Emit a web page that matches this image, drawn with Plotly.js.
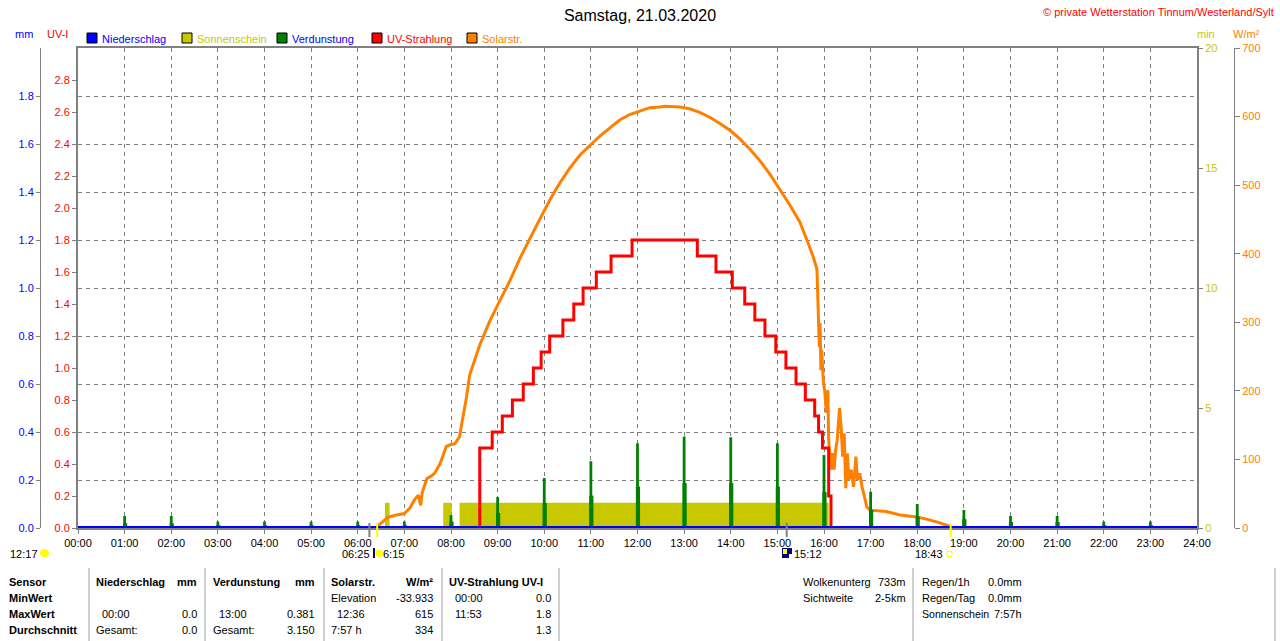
<!DOCTYPE html>
<html>
<head>
<meta charset="utf-8">
<script src="https://cdn.plot.ly/plotly-3.0.1.min.js"></script>
<style>html,body{margin:0;padding:0;background:#fff;}#chart{width:1280px;height:641px;}</style>
</head>
<body>
<div id="chart"></div>
<script>
// ---------------- data ----------------
const hourTicks = [0,1,2,3,4,5,6,7,8,9,10,11,12,13,14,15,16,17,18,19,20,21,22,23,24];
const hourLabels = ["00:00","01:00","02:00","03:00","04:00","05:00","06:00","07:00","08:00","09:00","10:00","11:00","12:00","13:00","14:00","15:00","16:00","17:00","18:00","19:00","20:00","21:00","22:00","23:00","24:00"];
const mmTicks = [0.0,0.2,0.4,0.6,0.8,1.0,1.2,1.4,1.6,1.8];
const uvTicks = [0.0,0.2,0.4,0.6,0.8,1.0,1.2,1.4,1.6,1.8,2.0,2.2,2.4,2.6,2.8];
const minTicks = [0,5,10,15,20];
const wTicks = [0,100,200,300,400,500,600,700];

// Sonnenschein (min): sunny intervals
const sunStart = ["06:35","07:50","08:11"];
const sunEnd = ["06:41","08:01","16:06"];
const sunMinutes = [1.05,1.05,1.05];

// Verdunstung (mm), hourly spikes: peak part and wider base part
const evapHours = ["01:00","02:00","03:00","04:00","05:00","06:00","07:00","08:00","09:00","10:00","11:00","12:00","13:00","14:00","15:00","16:00","17:00","18:00","19:00","20:00","21:00","22:00","23:00"];
const evapPeak = [0.05,0.05,0.027,0.027,0.027,0.027,0.027,0.054,0.129,0.208,0.278,0.353,0.381,0.378,0.353,0.304,0.151,0.1,0.075,0.05,0.05,0.027,0.027];
const evapBase = [0.02,0.02,0.012,0.012,0.012,0.012,0.012,0.027,0.0625,0.104,0.135,0.173,0.187,0.187,0.173,0.15,0.075,0.048,0.037,0.025,0.025,0.012,0.012];

// UV-Strahlung (UV-I)
const uvTimes = ["00:00","08:37","08:53","09:06","09:19","09:33","09:46","09:56","10:07","10:24","10:38","10:50","11:07","11:26","11:53","13:17","13:41","14:02","14:18","14:31","14:44","14:58","15:11","15:24","15:36","15:48","15:53","15:58","16:06","16:09","24:00"];
const uvIndex = [0,0.5,0.6,0.7,0.8,0.9,1.0,1.1,1.2,1.3,1.4,1.5,1.6,1.7,1.8,1.7,1.6,1.5,1.4,1.3,1.2,1.1,1.0,0.9,0.8,0.7,0.6,0.5,0.2,0,0];

// Solarstrahlung (W/m²)
const solarTimes = ["00:00","06:24","06:26","06:33","06:39","06:50","07:00","07:07","07:13","07:18","07:21","07:23","07:29","07:35","07:39","07:46","07:54","07:58","08:05","08:11","08:14","08:20","08:24","08:37","08:50","09:03","09:16","09:29","09:42","09:55","10:07","10:20","10:33","10:46","10:59","11:12","11:25","11:37","11:50","12:03","12:16","12:29","12:35","12:55","13:08","13:20","13:33","13:46","13:59","14:12","14:25","14:38","14:51","15:03","15:16","15:29","15:38","15:42","15:46","15:50","15:51","15:53","15:54","15:55","15:56","15:57","15:59","16:01","16:03","16:05","16:06","16:09","16:11","16:13","16:15","16:17","16:20","16:22","16:24","16:26","16:28","16:30","16:32","16:35","16:38","16:41","16:43","16:46","16:49","16:52","16:55","16:59","17:20","17:38","17:59","18:12","18:25","18:38","18:42","18:45","24:00"];
const solarWm2 = [0,0,3,10,16,19,21,29,41,48,33,52,72,76,80,94,119,121,123,133,153,191,223,267,302,332,361,394,423,452,478,503,525,544,558,572,584,595,603,608,613,614,615,614,611,606,599,590,580,567,552,535,515,494,471,446,420,408,396,381,376,299,264,299,230,260,216,199,168,201,128,85,109,85,114,128,175,148,104,138,58,109,70,85,60,104,70,80,60,46,31,26,24,19,16,13,9,4,2,0,0];

// Niederschlag (mm)
const precipTimes = ["00:00","24:00"];
const precipMm = [0,0];

// Ereignisse unter der Achse
const sunriseTime = "06:25";
const sunsetTime = "18:43";
const moonriseTime = "06:15";
const moonsetTime = "15:12";
const dayLengthText = "12:17";

// Tabelle
const rowLabels = ["Sensor","MinWert","MaxWert","Durchschnitt"];
const niederCells = [["Niederschlag","mm"],["",""],["00:00","0.0"],["Gesamt:","0.0"]];
const verdCells = [["Verdunstung","mm"],["",""],["13:00","0.381"],["Gesamt:","3.150"]];
const solarCells = [["Solarstr.","W/m²"],["Elevation","-33.933"],["12:36","615"],["7:57 h","334"]];
const uvCells = [["UV-Strahlung UV-I",""],["00:00","0.0"],["11:53","1.8"],["","1.3"]];
const wolkenCells = [["Wolkenunterg","733m"],["Sichtweite","2-5km"]];
const regenCells = [["Regen/1h","0.0mm"],["Regen/Tag","0.0mm"],["Sonnenschein","7:57h"]];

const legendNames = ["Niederschlag","Sonnenschein","Verdunstung","UV-Strahlung","Solarstr."];

// ---------------- helpers ----------------
const toH = s => { const p = s.split(':').map(Number); return p[0] + p[1]/60; };
const L = 40, R = 1234, T = 48, B = 528;
const px = x => (x - L) / (R - L);
const py = y => (B - y) / (B - T);

const C_BLUE = '#0000FF', C_OLIVE = '#C8C800', C_GREEN = '#008000', C_RED = '#FF0000', C_ORANGE = '#FF8000', C_GRAY = '#808080';
const FONT = '"Liberation Sans", Arial, sans-serif';

// ---------------- traces ----------------
const sunX = sunStart.map(toH);
const sunW = sunEnd.map((e, i) => toH(e) - sunX[i]);
const traces = [
  { x: sunX, y: sunMinutes, width: sunW, offset: 0, yaxis: 'y', type: 'bar',
    marker: { color: C_OLIVE, line: { width: 0 } }, hoverinfo: 'skip' },
  { x: solarTimes.map(toH), y: solarWm2, yaxis: 'y2', type: 'scatter', mode: 'lines',
    line: { width: 3, color: C_ORANGE, simplify: false }, hoverinfo: 'skip' },
  { x: uvTimes.map(toH), y: uvIndex, yaxis: 'y3', type: 'scatter', mode: 'lines',
    line: { width: 3, color: C_RED, shape: 'hv', simplify: false }, hoverinfo: 'skip' },
  { x: evapHours.map(toH), y: evapBase, yaxis: 'y4', type: 'bar', width: 0.09, offset: -0.035,
    marker: { color: C_GREEN, line: { width: 0 } }, hoverinfo: 'skip' },
  { x: evapHours.map(toH), y: evapPeak, yaxis: 'y4', type: 'bar', width: 0.06, offset: -0.03,
    marker: { color: C_GREEN, line: { width: 0 } }, hoverinfo: 'skip' },
  { x: precipTimes.map(toH), y: precipMm, yaxis: 'y4', type: 'scatter', mode: 'lines',
    line: { width: 4, color: C_BLUE }, hoverinfo: 'skip' }
];

// ---------------- annotations & shapes ----------------
const annotations = [];
const shapes = [];
function txt(text, x, y, color, anchor, size) {
  annotations.push({ text: text, xref: 'paper', yref: 'paper', x: px(x), y: py(y),
    xanchor: anchor || 'left', yanchor: 'middle', showarrow: false, borderpad: 0,
    font: { family: FONT, size: size || 11, color: color || '#000' } });
}
function rect(x0, y0, x1, y1, fill, lineColor) {
  shapes.push({ type: 'rect', xref: 'paper', yref: 'paper', x0: px(x0), x1: px(x1), y0: py(y1), y1: py(y0),
    fillcolor: fill, line: { color: lineColor || fill, width: lineColor ? 1 : 0 } });
}
function vline(x, y0, y1, color, w) {
  shapes.push({ type: 'line', xref: 'paper', yref: 'paper', x0: px(x), x1: px(x), y0: py(y0), y1: py(y1),
    line: { color: color, width: w || 1 } });
}

// copyright
txt('© private Wetterstation Tinnum/Westerland/Sylt', 1275, 12, C_RED, 'right', 11);
// axis unit labels
txt('mm', 14, 34, C_BLUE);
txt('UV-I', 46, 34, C_RED);
txt('min', 1196, 34, C_OLIVE);
txt('W/m²', 1232, 34, C_ORANGE);
// legend
const legColors = [C_BLUE, C_OLIVE, C_GREEN, C_RED, C_ORANGE];
const legTextColors = [C_BLUE, C_OLIVE, C_BLUE, C_RED, C_ORANGE];
const legX = [87, 182, 277, 372, 467];
legendNames.forEach((n, i) => {
  rect(legX[i], 33, legX[i] + 10, 43, legColors[i], '#000');
  txt(n, legX[i] + 14, 38.5, legTextColors[i]);
});

// events below axis
function evTick(t, color) {
  shapes.push({ type: 'line', xref: 'x', yref: 'paper', x0: toH(t), x1: toH(t), y0: py(523), y1: py(537),
    line: { color: color, width: 2 } });
}
evTick(moonriseTime, C_GRAY);
evTick(moonsetTime, C_GRAY);
evTick(sunriseTime, '#FFFF00');
evTick(sunsetTime, '#FFFF00');

txt(dayLengthText, 9, 553.5);
shapes.push({ type: 'circle', xref: 'paper', yref: 'paper', x0: px(40), x1: px(49), y0: py(557), y1: py(549), fillcolor: '#FFFF00', line: { width: 0 } });
txt(sunriseTime, 371, 553.5, '#000', 'right');
rect(373, 548, 375, 558, '#000080');
shapes.push({ type: 'circle', xref: 'paper', yref: 'paper', x0: px(375.5), x1: px(383), y0: py(557), y1: py(549.5), fillcolor: '#FFFF00', line: { width: 0 } });
txt(moonriseTime.slice(1), 382, 553.5);
rect(782, 548, 792, 558, '#000080');
rect(783, 549, 787, 554, '#FFFF00');
rect(789, 554, 792, 558, '#FFFFFF');
txt(moonsetTime, 793, 553.5);
txt(sunsetTime, 944, 553.5, '#000', 'right');
rect(947, 551.5, 952, 556.5, 'rgba(0,0,0,0)', '#FFFF00');

// table
const rowY = [582, 598, 614, 629.5];
[89, 205, 324, 442, 559, 913, 1275].forEach(x => vline(x, 568, 641, '#A0A0A0', 1));
const isTime = s => /^\d\d:\d\d$/.test(s);
rowLabels.forEach((r, i) => txt('<b>' + r + '</b>', 8, rowY[i]));
const groups = [[niederCells, 95, 198], [verdCells, 212, 316], [solarCells, 330, 434], [uvCells, 448, 552]];
groups.forEach(g => {
  g[0].forEach((row, i) => {
    const b = i === 0;
    if (row[0]) txt(b ? '<b>' + row[0] + '</b>' : row[0], g[1] + (isTime(row[0]) ? 6 : 0), rowY[i]);
    if (row[1]) txt(b ? '<b>' + row[1] + '</b>' : row[1], g[2], rowY[i], '#000', 'right');
  });
});
wolkenCells.forEach((row, i) => { txt(row[0], 802, rowY[i]); txt(row[1], 907, rowY[i], '#000', 'right'); });
regenCells.forEach((row, i) => { txt(row[0], 921, rowY[i], '#000', 'left', i === 2 ? 10.6 : 11); txt(row[1], 1023, rowY[i], '#000', 'right'); });

// ---------------- layout ----------------
const axisCommon = { showgrid: false, zeroline: false, showline: true, linecolor: C_GRAY, ticks: 'outside', tickcolor: C_GRAY, fixedrange: true };
const layout = {
  width: 1280, height: 641,
  margin: { l: 40, r: 46, t: 48, b: 113, pad: 0 },
  paper_bgcolor: '#fff', plot_bgcolor: '#fff',
  showlegend: false,
  font: { family: FONT, size: 11, color: '#000' },
  title: { text: 'Samstag, 21.03.2020', font: { family: FONT, size: 16, color: '#000' },
    x: 0.5, xref: 'container', xanchor: 'center', y: 1 - 15 / 641, yref: 'container', yanchor: 'middle' },
  barmode: 'overlay',
  xaxis: { domain: [px(78), px(1197)], range: [0, 24], tickmode: 'array', tickvals: hourTicks, ticktext: hourLabels,
    showgrid: true, gridcolor: C_GRAY, griddash: '4px,4px', gridwidth: 1,
    showline: true, linecolor: C_GRAY, linewidth: 2, mirror: true, ticks: 'outside', ticklen: 4, tickcolor: C_GRAY,
    zeroline: false, layer: 'below traces', tickfont: { size: 11, color: '#000' }, fixedrange: true },
  yaxis: Object.assign({}, axisCommon, { range: [0, 20], side: 'right', anchor: 'x', tickmode: 'array', tickvals: minTicks,
    tickfont: { size: 11, color: C_OLIVE }, linewidth: 2, ticklen: 4, layer: 'below traces' }),
  yaxis2: Object.assign({}, axisCommon, { overlaying: 'y', anchor: 'free', position: 1, side: 'right', range: [0, 700],
    tickmode: 'array', tickvals: wTicks, tickfont: { size: 11, color: C_ORANGE }, linewidth: 1, ticklen: 5 }),
  yaxis3: Object.assign({}, axisCommon, { overlaying: 'y', anchor: 'x', side: 'left', range: [0, 3],
    tickmode: 'array', tickvals: uvTicks, tickformat: '.1f', tickfont: { size: 11, color: C_RED }, linewidth: 2, ticklen: 4, layer: 'below traces' }),
  yaxis4: Object.assign({}, axisCommon, { overlaying: 'y', anchor: 'free', position: 0, side: 'left', range: [0, 2],
    tickmode: 'array', tickvals: mmTicks, tickformat: '.1f', tickfont: { size: 11, color: C_BLUE }, linewidth: 1, ticklen: 4,
    showgrid: true, gridcolor: C_GRAY, griddash: '4px,4px', gridwidth: 1 }),
  annotations: annotations,
  shapes: shapes
};

Plotly.newPlot('chart', traces, layout, { staticPlot: true, displayModeBar: false });
</script>
</body>
</html>
